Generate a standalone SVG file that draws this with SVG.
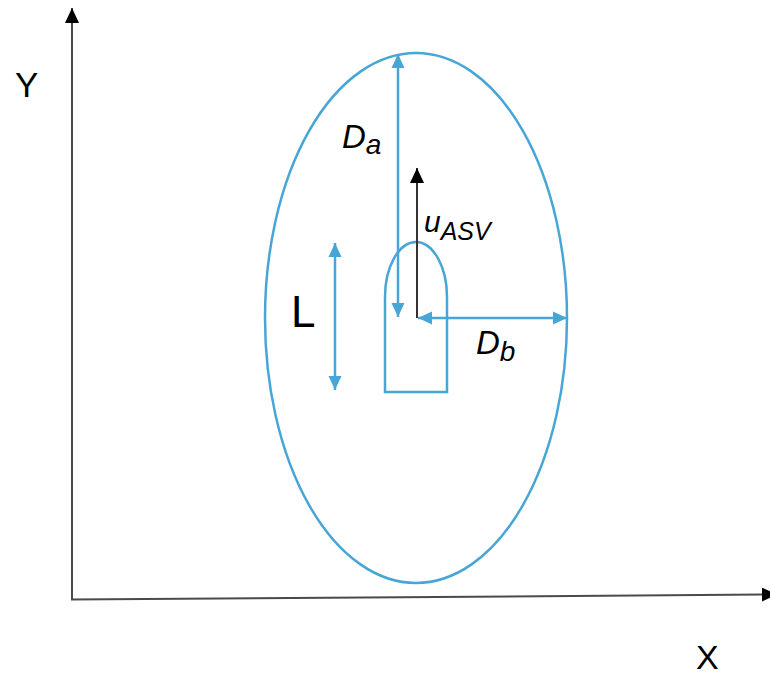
<svg xmlns="http://www.w3.org/2000/svg" width="770" height="677" viewBox="0 0 770 677">
<style>
.blue{fill:none;stroke:#48A6D6;stroke-width:2.5}
.axis{fill:none;stroke:#4a4a4a;stroke-width:2}
.dark{fill:none;stroke:#333;stroke-width:2}
.lbl{font-family:"Liberation Sans",Arial,sans-serif;fill:#000}
.it{font-style:italic}
</style>
<defs>
<marker id="ab" markerUnits="userSpaceOnUse" markerWidth="14" markerHeight="14" refX="14" refY="7" orient="auto-start-reverse" viewBox="0 0 14 14">
<path d="M0,0.5 L14,7 L0,13.5 Z" fill="#48A6D6"/>
</marker>
<marker id="ak" markerUnits="userSpaceOnUse" markerWidth="15" markerHeight="14" refX="15" refY="7" orient="auto" viewBox="0 0 15 14">
<path d="M0,0 L15,7 L0,14 Z" fill="#000"/>
</marker>
</defs>
<g id="axes">
<line class="axis" x1="72" y1="600" x2="72" y2="8" marker-end="url(#ak)"/>
<line class="axis" x1="71" y1="599.5" x2="777" y2="594.5" marker-end="url(#ak)"/>
<text class="lbl" x="15" y="97" font-size="35">Y</text>
<text class="lbl" x="696" y="669" font-size="34">X</text>
</g>
<g id="domain">
<ellipse class="blue" cx="416" cy="318" rx="151" ry="265"/>
</g>
<g id="vessel">
<path class="blue" d="M385,392 L385,297 A31,55 0 0 1 447,297 L447,392 Z"/>
</g>
<g id="connectors">
<line class="blue" x1="398" y1="54" x2="398" y2="317" marker-start="url(#ab)" marker-end="url(#ab)"/>
<line class="blue" x1="418" y1="318" x2="567" y2="318" marker-start="url(#ab)" marker-end="url(#ab)"/>
<line class="blue" x1="335" y1="243" x2="335" y2="390" marker-start="url(#ab)" marker-end="url(#ab)"/>
<line class="dark" x1="417" y1="318" x2="417" y2="168" marker-end="url(#ak)"/>
</g>
<g id="labels">
<text class="lbl it" x="342" y="148" font-size="33">D<tspan font-size="28" dy="6">a</tspan></text>
<text class="lbl it" x="424" y="232" font-size="30">u<tspan font-size="25" dy="8">ASV</tspan></text>
<text class="lbl it" x="476" y="354" font-size="33">D<tspan font-size="28" dy="7">b</tspan></text>
<text class="lbl" x="291" y="327" font-size="44">L</text>
</g>
</svg>
